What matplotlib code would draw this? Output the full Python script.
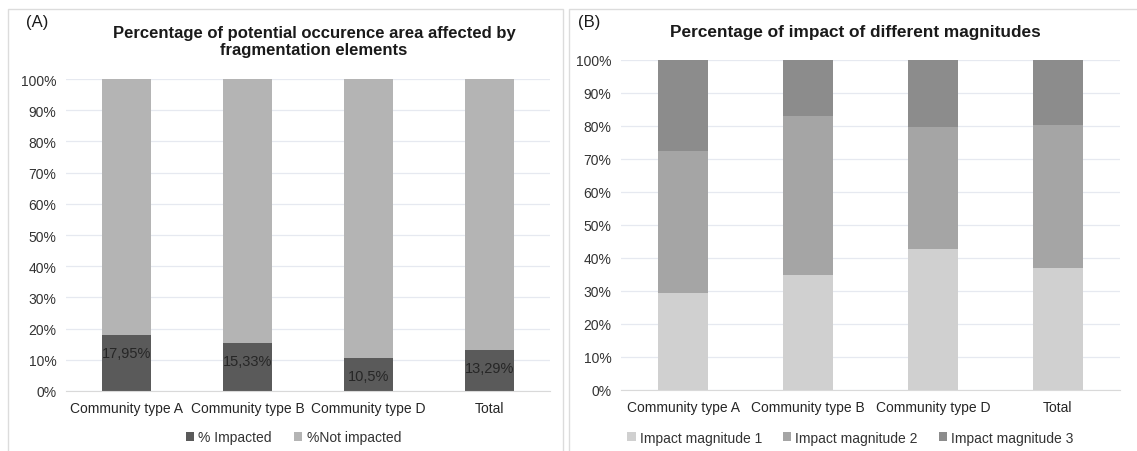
import matplotlib
matplotlib.use("Agg")
import matplotlib.pyplot as plt
from matplotlib.patches import Rectangle
import numpy as np

plt.rcParams['font.family'] = ['Liberation Sans', 'DejaVu Sans']

categories = ["Community type A", "Community type B", "Community type D", "Total"]
impacted = [17.95, 15.33, 10.5, 13.29]
not_impacted = [100 - v for v in impacted]
impacted_labels = ["17,95%", "15,33%", "10,5%", "13,29%"]

mag1 = [29.5, 35.0, 42.8, 37.0]
mag2 = [42.8, 48.0, 37.0, 43.3]
mag3 = [27.7, 17.0, 20.2, 19.7]

yticks = list(range(0, 101, 10))
ytick_labels = [f"{t}%" for t in yticks]

W, H = 1137, 452
fig = plt.figure(figsize=(W / 100, H / 100), dpi=100)

# panel frames
fig.patches.append(Rectangle((8 / W, -0.05), (563 - 8) / W, 1 - 10 / H + 0.05,
                             transform=fig.transFigure, fill=False,
                             edgecolor="#dcdcdc", linewidth=1.0))
fig.patches.append(Rectangle((569 / W, -0.05), (1160 - 569) / W, 1 - 10 / H + 0.05,
                             transform=fig.transFigure, fill=False,
                             edgecolor="#dcdcdc", linewidth=1.0))

def style_ax(ax):
    ax.set_ylim(0, 100)
    ax.set_xlim(-0.5, 3.5)
    ax.set_yticks(yticks)
    ax.set_yticklabels(ytick_labels, fontsize=10, color="#333333")
    ax.set_xticks(range(len(categories)))
    ax.set_xticklabels(categories, fontsize=10, color="#262626")
    for s in ax.spines.values():
        s.set_visible(False)
    ax.spines['bottom'].set_visible(True)
    ax.spines['bottom'].set_color("#d9d9d9")
    ax.grid(axis='y', color="#e6e9f0", linewidth=0.9)
    ax.set_axisbelow(True)
    ax.tick_params(length=0, pad=7)

x = np.arange(len(categories))

# Panel A
axA = fig.add_axes([66 / W, 1 - 392 / H, (550 - 66) / W, (392 - 80) / H])
style_ax(axA)
bw = 0.40
axA.bar(x, impacted, bw, color="#5a5a5a", label="% Impacted")
axA.bar(x, not_impacted, bw, bottom=impacted, color="#b4b4b4", label="%Not impacted")
for xi, v, lab in zip(x, impacted, impacted_labels):
    axA.text(xi, v - 3.6, lab, ha='center', va='top', fontsize=10.5, color="#262626")
axA.legend(loc='upper center', bbox_to_anchor=(0.47, -0.085), ncol=2, frameon=False,
           fontsize=10, handlelength=0.6, handleheight=0.6, handletextpad=0.3,
           columnspacing=1.6, labelcolor="#333333")
fig.text(314 / W, 1 - 42 / H, "Percentage of potential occurence area affected by\nfragmentation elements",
         ha='center', va='center', fontsize=12, fontweight='bold', color="#1a1a1a", linespacing=1.2)
fig.text(26 / W, 1 - 22 / H, "(A)", ha='left', va='center', fontsize=12, color="#1a1a1a")

# Panel B
axB = fig.add_axes([621 / W, 1 - 391 / H, (1120 - 621) / W, (391 - 61) / H])
style_ax(axB)
bwB = 0.40
axB.bar(x, mag1, bwB, color="#d0d0d0", label="Impact magnitude 1")
axB.bar(x, mag2, bwB, bottom=mag1, color="#a5a5a5", label="Impact magnitude 2")
axB.bar(x, mag3, bwB, bottom=np.array(mag1) + np.array(mag2), color="#8c8c8c", label="Impact magnitude 3")
axB.legend(loc='upper center', bbox_to_anchor=(0.46, -0.085), ncol=3, frameon=False,
           fontsize=10, handlelength=0.6, handleheight=0.6, handletextpad=0.3,
           columnspacing=1.5, labelcolor="#333333")
fig.text(855 / W, 1 - 33 / H, "Percentage of impact of different magnitudes",
         ha='center', va='center', fontsize=12.4, fontweight='bold', color="#1a1a1a")
fig.text(578 / W, 1 - 22 / H, "(B)", ha='left', va='center', fontsize=12, color="#1a1a1a")

fig.savefig("out.png", dpi=100)
